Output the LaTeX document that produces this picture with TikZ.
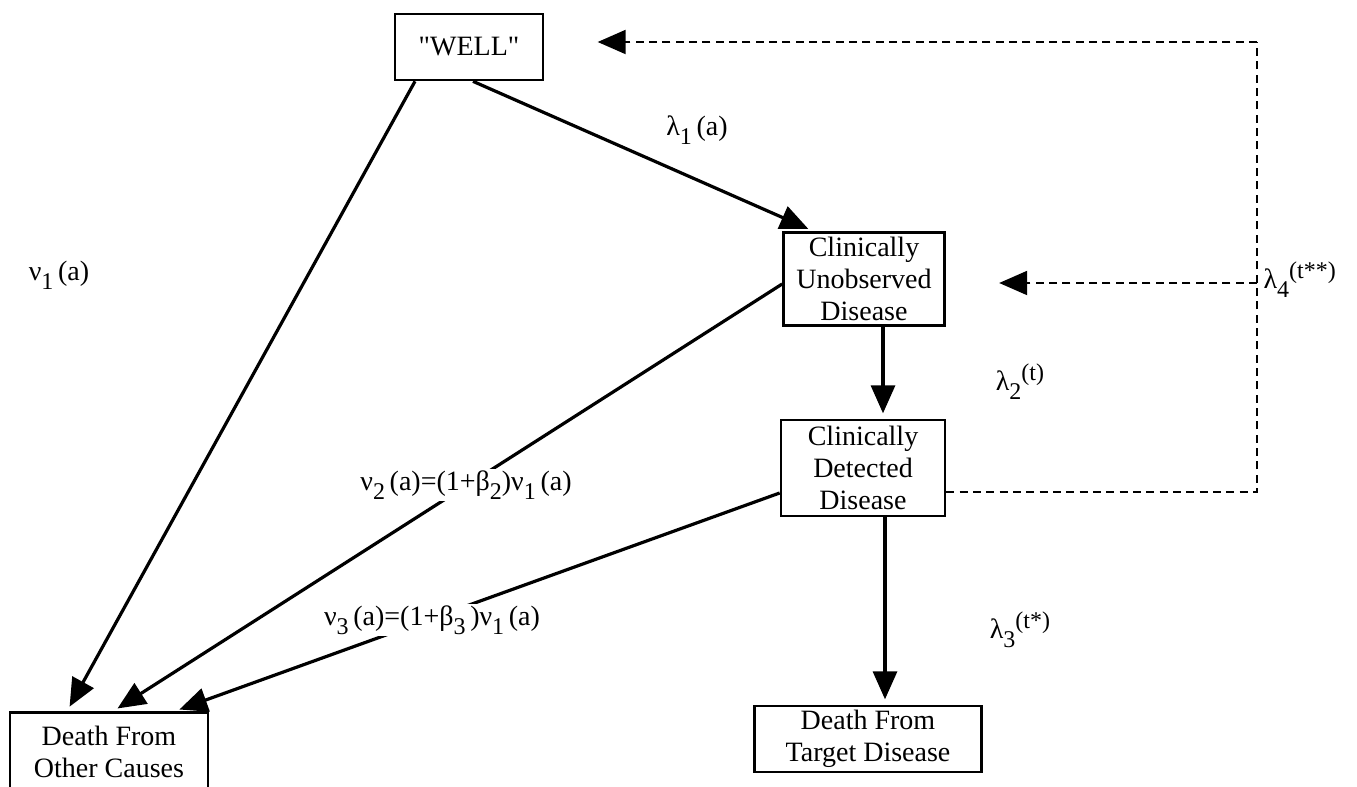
\documentclass[tikz,border=0pt]{standalone}
\usepackage{fontspec}
\setmainfont{Liberation Serif}
\usetikzlibrary{arrows.meta,calc}
\newcommand\dn[1]{\raisebox{-0.7ex}{\fontsize{18}{18}\selectfont #1}}
\newcommand\up[1]{\raisebox{0.8ex}{\fontsize{18}{18}\selectfont #1}}

\begin{document}
\begin{tikzpicture}[x=0.75pt,y=-0.75pt,
  state/.style={draw,line width=2pt,align=center,inner sep=0pt,font=\fontsize{21}{24}\selectfont},
  flow/.style={line width=2.4pt,-{Triangle[length=21pt,width=18pt]},shorten >=4pt},
  link/.style={dash pattern=on 6pt off 4pt,line width=1.5pt},
  rate/.style={font=\fontsize{21}{24}\selectfont,inner sep=1pt}]
\useasboundingbox (0,0) rectangle (1357,787);

% Draw states
\node[state,minimum width=111pt,minimum height=49.5pt] (well) at (469,47) {\textquotedbl WELL\textquotedbl};
\node[state,minimum width=120.75pt,minimum height=70pt] (unobs) at (864,279) {Clinically\\Unobserved\\Disease};
\node[state,minimum width=123pt,minimum height=72pt] (detect) at (863,468) {Clinically\\Detected\\Disease};
\node[state,minimum width=170pt,minimum height=49.5pt] (dtarget) at (868,739) {Death From\\Target Disease};
\node[state,minimum width=148.5pt,minimum height=59pt] (dother) at (109,752) {Death From\\Other Causes};

% Draw transitions
\draw[flow] ($(well.south)+(-54,0)$) -- ($(dother.north)+(-42,0)$);
\draw[flow] ($(well.south)+(4,0)$) -- ($(unobs.north west)+(31,0)$);
\draw[flow] ($(unobs.west)+(0,5)$) -- ($(dother.north)+(4,0)$);
\draw[flow] ($(detect.west)+(0,25)$) -- ($(dother.north east)+(-35,0)$);
\draw[flow] ($(unobs.south)+(19,0)$) -- ($(detect.north)+(20,0)$);
\draw[flow] ($(detect.south)+(22,0)$) -- ($(dtarget.north)+(17,0)$);

% Draw recovery links
\coordinate (cornertop) at (1257,42);
\coordinate (cornermid) at (1257,283);
\coordinate (cornerbot) at (1257,492);
\draw[link] (detect.east |- cornerbot) -- (cornerbot) -- (cornertop);
\draw[link,-{Triangle[length=21pt,width=18pt]},shorten >=40pt] (cornertop) -- (well.east |- cornertop);
\draw[link,-{Triangle[length=21pt,width=18pt]},shorten >=40pt] (cornermid) -- (unobs.east |- cornermid);

% Draw rates
\node[rate] (lamone) at (697,130) {λ\dn{1}\,(a)};
\node[rate] (nuone) at (59,275) {ν\dn{1}\,(a)};
\node[rate] (lamtwo) at (1020,382) {λ\dn{2}\up{(t)}};
\node[rate] (lamthree) at (1020,630) {λ\dn{3}\up{(t*)}};
\node[rate,anchor=west] (lamfour) at (1262,280) {λ\dn{4}\up{(t**)}};
\node[rate,fill=white] (nutwo) at (466,485) {ν\dn{2}\,(a)=(1+β\dn{2})ν\dn{1}\,(a)};
\node[rate,fill=white] (nuthree) at (432,620) {ν\dn{3}\,(a)=(1+β\dn{3}\,)ν\dn{1}\,(a)};

\end{tikzpicture}
\end{document}
